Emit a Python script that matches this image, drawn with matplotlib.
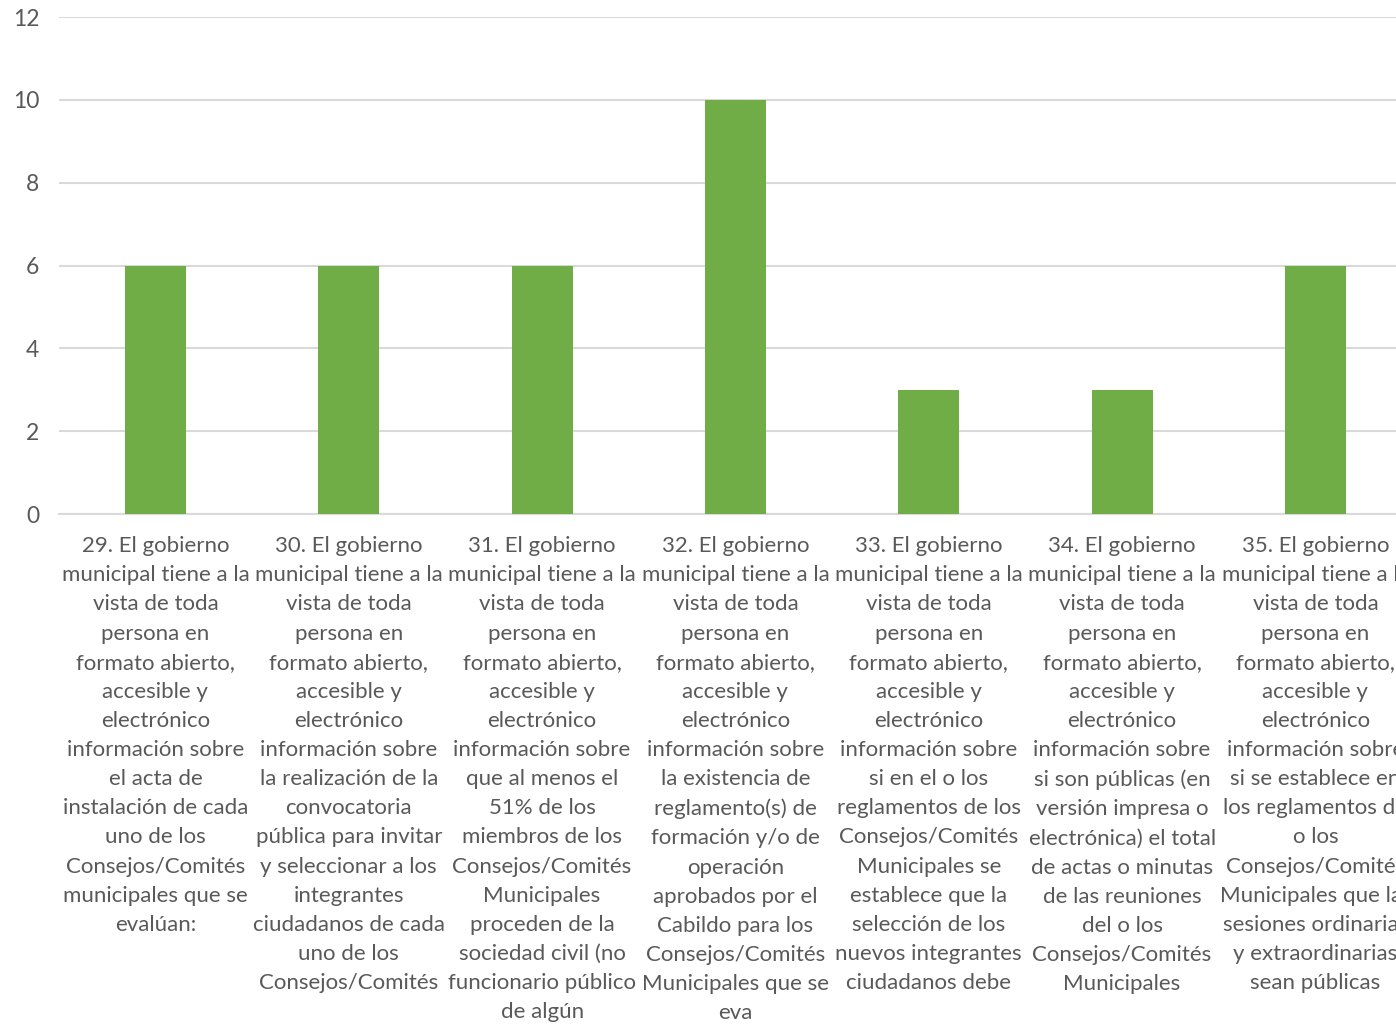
import matplotlib
matplotlib.use("Agg")
import matplotlib.pyplot as plt

categories = [
    "29. El gobierno\nmunicipal tiene a la\nvista de toda\npersona en\nformato abierto,\naccesible y\nelectrónico\ninformación sobre\nel acta de\ninstalación de cada\nuno de los\nConsejos/Comités\nmunicipales que se\nevalúan:",
    "30. El gobierno\nmunicipal tiene a la\nvista de toda\npersona en\nformato abierto,\naccesible y\nelectrónico\ninformación sobre\nla realización de la\nconvocatoria\npública para invitar\ny seleccionar a los\nintegrantes\nciudadanos de cada\nuno de los\nConsejos/Comités",
    "31. El gobierno\nmunicipal tiene a la\nvista de toda\npersona en\nformato abierto,\naccesible y\nelectrónico\ninformación sobre\nque al menos el\n51% de los\nmiembros de los\nConsejos/Comités\nMunicipales\nproceden de la\nsociedad civil (no\nfuncionario público\nde algún",
    "32. El gobierno\nmunicipal tiene a la\nvista de toda\npersona en\nformato abierto,\naccesible y\nelectrónico\ninformación sobre\nla existencia de\nreglamento(s) de\nformación y/o de\noperación\naprobados por el\nCabildo para los\nConsejos/Comités\nMunicipales que se\neva",
    "33. El gobierno\nmunicipal tiene a la\nvista de toda\npersona en\nformato abierto,\naccesible y\nelectrónico\ninformación sobre\nsi en el o los\nreglamentos de los\nConsejos/Comités\nMunicipales se\nestablece que la\nselección de los\nnuevos integrantes\nciudadanos debe",
    "34. El gobierno\nmunicipal tiene a la\nvista de toda\npersona en\nformato abierto,\naccesible y\nelectrónico\ninformación sobre\nsi son públicas (en\nversión impresa o\nelectrónica) el total\nde actas o minutas\nde las reuniones\ndel o los\nConsejos/Comités\nMunicipales",
    "35. El gobierno\nmunicipal tiene a la\nvista de toda\npersona en\nformato abierto,\naccesible y\nelectrónico\ninformación sobre\nsi se establece en\nlos reglamentos de\no los\nConsejos/Comités\nMunicipales que las\nsesiones ordinarias\ny extraordinarias\nsean públicas",
]
values = [6, 6, 6, 10, 3, 3, 6]
y_ticks = [0, 2, 4, 6, 8, 10, 12]

plt.rcParams['font.family'] = ['Lato', 'DejaVu Sans']
text_color = "#595959"

fig = plt.figure(figsize=(13.96, 10.26), dpi=100)
ax = fig.add_axes([0.0421, 0.499, 0.9694, 0.4844])
x = list(range(len(values)))
ax.bar(x, values, width=0.315, color="#70AD47", zorder=3)
ax.set_xlim(-0.5, len(values) - 0.5)
ax.set_ylim(0, 12)
ax.set_yticks(y_ticks)
ax.set_yticklabels([str(t) for t in y_ticks], fontsize=16.5, color=text_color)
ax.set_xticks(x)
ax.set_xticklabels(categories, fontsize=16, color=text_color, linespacing=1.57,
                   va="top", ha="center")
ax.tick_params(axis="both", length=0)
ax.tick_params(axis="y", pad=14)
ax.tick_params(axis="x", pad=16)
ax.grid(axis="y", color="#D9D9D9", linewidth=1.5, zorder=0)
for s in ["top", "right", "left"]:
    ax.spines[s].set_visible(False)
ax.spines["bottom"].set_color("#D9D9D9")
ax.spines["bottom"].set_linewidth(1.5)

fig.savefig("out.png", dpi=100)
